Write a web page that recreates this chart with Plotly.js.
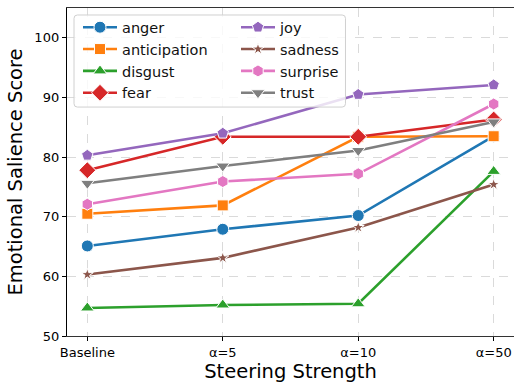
<!DOCTYPE html>
<html>
<head>
<meta charset="utf-8">
<script src="https://cdn.plot.ly/plotly-3.0.1.min.js"></script>
<style>html,body{margin:0;padding:0;background:#fff;}#chart{width:514px;height:385px;}</style>
</head>
<body>
<div id="chart"></div>
<script>
const categories = ["Baseline", "α=5", "α=10", "α=50"];
const emotions = ["anger", "anticipation", "disgust", "fear", "joy", "sadness", "surprise", "trust"];
const anger = [65.1, 67.9, 70.2, 83.5];
const anticipation = [70.5, 71.9, 83.4, 83.5];
const disgust = [54.7, 55.2, 55.4, 77.6];
const fear = [77.8, 83.4, 83.4, 86.3];
const joy = [80.3, 84.0, 90.5, 92.1];
const sadness = [60.3, 63.1, 68.2, 75.4];
const surprise = [72.1, 75.9, 77.2, 88.9];
const trust = [75.6, 78.5, 81.1, 85.9];
const yTicks = [50, 60, 70, 80, 90, 100];

const seriesValues = [anger, anticipation, disgust, fear, joy, sadness, surprise, trust];
const colors = ["#1f77b4", "#ff7f0e", "#2ca02c", "#d62728", "#9467bd", "#8c564b", "#e377c2", "#7f7f7f"];
const symbols = ["circle", "square", "triangle-up", "diamond", "pentagon", "star", "hexagon", "triangle-down"];
const sizes = [12, 11, 12, 13, 12, 9, 12, 12];
const ranks = [1, 3, 5, 7, 2, 4, 6, 8];

const traces = emotions.map((name, i) => ({
  type: "scatter",
  mode: "lines+markers",
  name: name,
  x: categories,
  y: seriesValues[i],
  legendrank: ranks[i],
  line: {color: colors[i], width: 2.6},
  marker: {symbol: symbols[i], size: sizes[i], color: colors[i], line: {color: "#ffffff", width: 1}}
}));

// legend frame (rounded rectangle in paper coordinates)
const bx0 = 0.0157, bx1 = 0.623, by0 = 0.698, by1 = 0.9787, rx = 0.0075, ry = 0.0102;
const framePath = `M${bx0 + rx},${by1} L${bx1 - rx},${by1} Q${bx1},${by1} ${bx1},${by1 - ry} ` +
  `L${bx1},${by0 + ry} Q${bx1},${by0} ${bx1 - rx},${by0} L${bx0 + rx},${by0} Q${bx0},${by0} ${bx0},${by0 + ry} ` +
  `L${bx0},${by1 - ry} Q${bx0},${by1} ${bx0 + rx},${by1} Z`;

const layout = {
  width: 514,
  height: 385,
  margin: {l: 67, r: 0, t: 8, b: 49},
  paper_bgcolor: "#ffffff",
  plot_bgcolor: "#ffffff",
  font: {family: "DejaVu Sans", color: "#000000"},
  showlegend: true,
  legend: {
    orientation: "h",
    x: 0.0246, y: 0.99, xanchor: "left", yanchor: "top",
    bgcolor: "rgba(0,0,0,0)",
    borderwidth: 0,
    font: {family: "DejaVu Sans", size: 14.5, color: "#111111"},
    entrywidth: 109,
    itemwidth: 34
  },
  shapes: [{
    type: "path", xref: "paper", yref: "paper", layer: "above",
    path: framePath,
    fillcolor: "rgba(255,255,255,0.8)",
    line: {color: "#d0d0d0", width: 1}
  }],
  xaxis: {
    type: "category",
    range: [-0.15, 3.15],
    tickfont: {size: 13, color: "#000"},
    title: {text: "Steering Strength", font: {size: 19.5, color: "#000"}, standoff: 4},
    showgrid: true, gridcolor: "#dadada", griddash: "dash", gridwidth: 1,
    showline: true, linecolor: "#333333", linewidth: 1.2, mirror: true,
    ticks: "outside", ticklen: 4, tickcolor: "#000", zeroline: false
  },
  yaxis: {
    range: [50, 105],
    tickvals: yTicks,
    tickfont: {size: 13, color: "#000"},
    title: {text: "Emotional Salience Score", font: {size: 19.5, color: "#000"}, standoff: 6},
    showgrid: true, gridcolor: "#dadada", griddash: "dash", gridwidth: 1,
    showline: true, linecolor: "#000", linewidth: 1.2, mirror: true,
    ticks: "outside", ticklen: 4, tickcolor: "#000", zeroline: false
  }
};

Plotly.newPlot("chart", traces, layout, {displayModeBar: false, staticPlot: true});
</script>
</body>
</html>
